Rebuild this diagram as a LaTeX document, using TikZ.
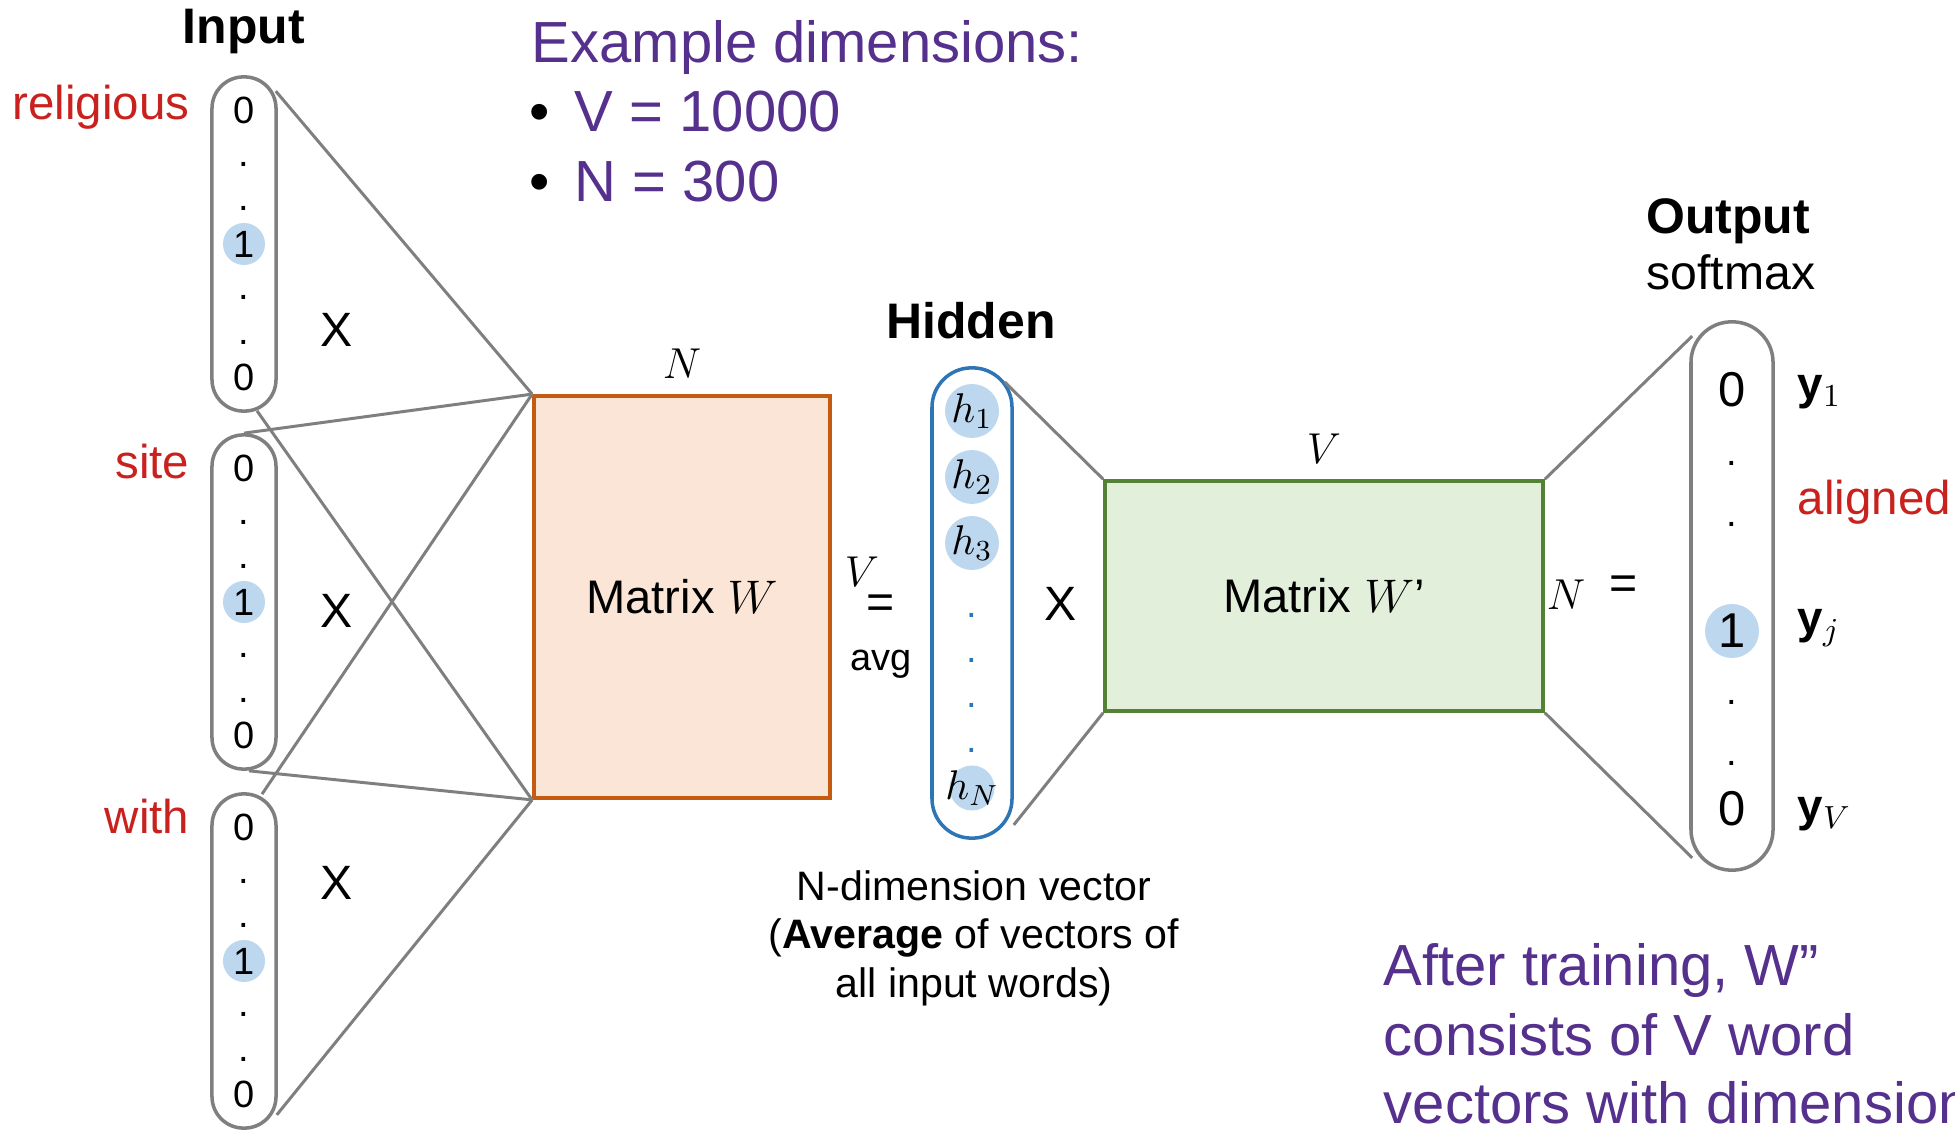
\RequirePackage{fix-cm}
\documentclass[tikz,border=0pt]{standalone}
\usepackage{fontspec}
\setmainfont{Liberation Sans}
\usepackage{tikz}
\usetikzlibrary{positioning}
\definecolor{wordred}{HTML}{C9211E}
\definecolor{notepurple}{HTML}{55308D}
\definecolor{linegray}{HTML}{7F7F7F}
\definecolor{hlblue}{HTML}{BDD7EE}
\definecolor{wfill}{HTML}{FBE5D6}
\definecolor{wdraw}{HTML}{C55A11}
\definecolor{wpfill}{HTML}{E2EFDA}
\definecolor{wpdraw}{HTML}{548235}
\definecolor{hidblue}{HTML}{2E75B6}
\newcommand\pxfont[1]{\fontsize{#1}{#1}\selectfont}
\tikzset{
  invec/.style={draw=linegray, line width=1pt, rounded corners=0.315cm, minimum width=0.64cm, minimum height=3.34cm, inner sep=0pt},
  hidvec/.style={invec, draw=hidblue, rounded corners=0.395cm, minimum width=0.8cm, minimum height=4.7cm},
  outvec/.style={invec, rounded corners=0.405cm, minimum width=0.82cm, minimum height=5.48cm},
  cell/.style={font=\pxfont{10.8}, inner sep=0pt},
  hot/.style={cell, circle, fill=hlblue, minimum size=0.42cm},
  bigcell/.style={font=\pxfont{13.9}, inner sep=0pt},
  bighot/.style={bigcell, circle, fill=hlblue, minimum size=0.54cm},
  hcell/.style={circle, fill=hlblue, minimum size=0.45cm, inner sep=0pt, font=\pxfont{11.8}},
  hdot/.style={cell, text=hidblue},
  mult/.style={font=\pxfont{13.7}, inner sep=0pt},
  eq/.style={font=\pxfont{13.7}, inner sep=0pt},
  word/.style={font=\pxfont{13.5}, text=wordred, inner sep=0pt},
  head/.style={font=\pxfont{14.2}\bfseries, inner sep=0pt},
  dimlbl/.style={font=\pxfont{12.3}, inner sep=0pt},
  ylbl/.style={font=\pxfont{13}, inner sep=0pt, anchor=west},
  mat/.style={line width=1pt, font=\pxfont{13.4}, inner sep=0pt},
  wmat/.style={mat, draw=wdraw, fill=wfill, minimum width=2.96cm, minimum height=4.02cm},
  wpmat/.style={mat, draw=wpdraw, fill=wpfill, minimum width=4.38cm, minimum height=2.3cm},
  link/.style={draw=linegray, line width=0.85pt},
  note/.style={font=\pxfont{16.5}, text=notepurple, inner sep=0pt, anchor=base west},
  after/.style={note},
  capt/.style={font=\pxfont{11.7}, inner sep=0pt, anchor=base}
}
\begin{document}
\begin{tikzpicture}[x=0.01cm, y=-0.01cm]
\useasboundingbox (0,0) rectangle (1955,1131);

% one-hot input words
\node[head, anchor=base] (inT) at (244,44) {Input};
\foreach \n/\cy/\xy/\w/\wy in {1/244/330/religious/120, 2/602/611/site/479, 3/961/883/with/833} {
  \node[invec] (in\n) at (244,\cy) {};
  \foreach \k in {0,6} \node[cell] (in\n-\k) at (244,\cy-133.5+\k*44.5) {0};
  \foreach \k in {1,2,4,5} \node[cell] (in\n-\k) at (244,\cy-124.5+\k*44.5) {.};
  \node[hot] (in\n-3) at (244,\cy) {1};
  \node[mult] (x\n) at (337,\xy) {X};
  \node[word, anchor=base east] (w\n) at (190,\wy) {\w};
}

% matrix W
\node[wmat] (matW) at (682,597) {Matrix $W$};
\node[dimlbl, above=0.15cm of matW] (nW) {$N$};
\draw[link] ([shift={(-2,16)}]in1.north east) -- (matW.north west);
\draw[link] ([shift={(13,-2)}]in1.south) -- (matW.south west);
\draw[link] (in2.north) -- (matW.north west);
\draw[link] ([shift={(5,0)}]in2.south) -- (matW.south west);
\draw[link] ([shift={(18,2)}]in3.north) -- (matW.north west);
\draw[link] ([shift={(-1,-15)}]in3.south east) -- (matW.south west);

% hidden layer
\node[dimlbl] (vW) at (862,572) {$V$};
\node[eq] (eq1) at (881,607) {=};
\node[cell, anchor=base] (avg) at (881,670) {avg};
\node[head, anchor=base] (hidT) at (971,339) {Hidden};
\node[hidvec] (hid) at (972,603) {};
\node[hcell] (h1) at (972,411) {$h_1$};
\node[hcell] (h2) at (972,477) {$h_2$};
\node[hcell] (h3) at (972,543) {$h_3$};
\foreach \k/\y in {1/615, 2/660, 3/705, 4/750} \node[hdot] (hd\k) at (972,\y) {.};
\node[hcell] (hN) at (972,788) {\makebox[0pt]{$h_N$}};
\node[capt] (cap1) at (974,900) {N-dimension vector};
\node[capt] (cap2) at (974,948) {(\textbf{Average} of vectors of};
\node[capt] (cap3) at (974,997) {all input words)};

% matrix W'
\node[mult] (x4) at (1061,604) {X};
\node[wpmat] (matWp) at (1324,596) {Matrix $W$’};
\node[dimlbl, above=0.15cm of matWp] (vWp) {$V$};
\node[dimlbl] (nWp) at (1566,595) {$N$};
\node[eq] (eq2) at (1624,588) {=};
\draw[link] ([shift={(-9,16)}]hid.north east) -- (matWp.north west);
\draw[link] ([shift={(0,-15)}]hid.south east) -- (matWp.south west);

% output layer
\node[head, anchor=base] (outT) at (1728,234) {Output};
\node[font=\pxfont{13.7}, inner sep=0pt, anchor=base] (soft) at (1731,290) {softmax};
\node[outvec] (out) at (1732,596) {};
\node[bigcell] (o0) at (1732,390) {0};
\foreach \k/\y in {1/463, 2/524, 4/702, 5/763} \node[cell] (o\k) at (1732,\y) {.};
\node[bighot] (o3) at (1732,631) {1};
\node[bigcell] (o6) at (1732,809) {0};
\node[ylbl] (y1) at (1797,392) {$\mathbf{y}_1$};
\node[ylbl] (yj) at (1797,628) {$\mathbf{y}_j$};
\node[ylbl] (yV) at (1797,814) {$\mathbf{y}_V$};
\node[word, anchor=base west] (algn) at (1797,515) {aligned};
\draw[link] (matWp.north east) -- ([shift={(3,16)}]out.north west);
\draw[link] (matWp.south east) -- ([shift={(3,-14)}]out.south west);

% notes
\node[note] (dimT) at (531,63) {Example dimensions:};
\node[note] (dimV) at (529,132) {\makebox[0.45cm][l]{\color{black}\textbullet}V = 10000};
\node[note] (dimN) at (529,202) {\makebox[0.45cm][l]{\color{black}\textbullet}N = 300};
\node[after] (aft1) at (1383,985) {After training, W”};
\node[after] (aft2) at (1383,1055) {consists of V word};
\node[after] (aft3) at (1383,1123) {vectors with dimension};
\end{tikzpicture}
\end{document}
